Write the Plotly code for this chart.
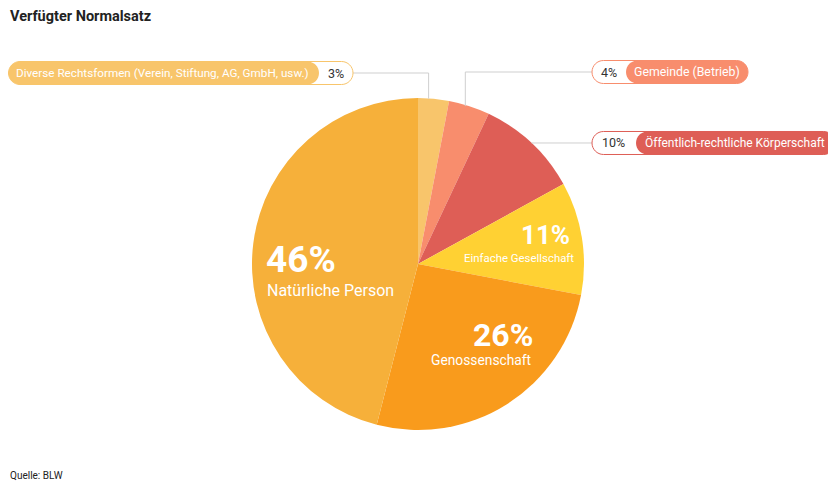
import numpy as np
import plotly.graph_objects as go

# ----------------------------------------------------------------------
# data
# ----------------------------------------------------------------------
labels = [
    "Diverse Rechtsformen (Verein, Stiftung, AG, GmbH, usw.)",
    "Gemeinde (Betrieb)",
    "Öffentlich-rechtliche Körperschaft",
    "Einfache Gesellschaft",
    "Genossenschaft",
    "Natürliche Person",
]
values = [3, 4, 10, 11, 26, 46]
colors = ["#F8C56B", "#F88D6D", "#DE5E56", "#FFD133", "#F99B1C", "#F6B03A"]

title = "Verfügter Normalsatz"
source = "Quelle: BLW"

FONT = "Roboto"
W, H = 836, 482
OFF = 8                      # page body margin, everything is laid out in page pixels
CX, CY, R = 418, 264, 166    # pie centre / radius in page pixels

# ----------------------------------------------------------------------
# pie
# ----------------------------------------------------------------------
fig = go.Figure()
fig.add_trace(go.Pie(
    labels=labels, values=values, sort=False, direction="clockwise",
    rotation=0, textinfo="none", hoverinfo="label+percent",
    marker=dict(colors=colors, line=dict(width=0)),
    domain=dict(x=[(CX - OFF - R) / W, (CX - OFF + R) / W],
                y=[1 - (CY - OFF + R) / H, 1 - (CY - OFF - R) / H]),
    showlegend=False,
))

# slice mid angles (clockwise from 12 o'clock)
total = sum(values)
cum = np.cumsum([0] + values)
mid = [(cum[i] + values[i] / 2) / total * 2 * np.pi for i in range(len(values))]


def edge(i):
    return CX + R * np.sin(mid[i]), CY - R * np.cos(mid[i])


def pill(x0, x1, yc, h=23):
    r = h / 2
    k = 0.5523 * r
    return (f"M{x0 + r},{yc - r} L{x1 - r},{yc - r} "
            f"C{x1 - r + k},{yc - r} {x1},{yc - k} {x1},{yc} "
            f"C{x1},{yc + k} {x1 - r + k},{yc + r} {x1 - r},{yc + r} "
            f"L{x0 + r},{yc + r} "
            f"C{x0 + r - k},{yc + r} {x0},{yc + k} {x0},{yc} "
            f"C{x0},{yc - k} {x0 + r - k},{yc - r} {x0 + r},{yc - r} Z")


line_style = dict(color="#cfcfcf", width=1)
shapes = []
annos = []

# --- Diverse Rechtsformen (pill left, label first) ---
ex, ey = edge(0)
py = 73
shapes.append(dict(type="path", path=f"M{ex - 5},{ey} L{ex - 5},{py} L353,{py}",
                   line=line_style))
shapes.append(dict(type="path", path=pill(OFF + 0.5, 353, py), fillcolor="white",
                   line=dict(color=colors[0], width=1)))
shapes.append(dict(type="path", path=pill(OFF + 0.5, 319, py), fillcolor=colors[0],
                   line=dict(width=0)))
annos.append(dict(x=14, y=py, text=labels[0], xanchor="left",
                  font=dict(color="white", size=11.7)))
annos.append(dict(x=336, y=py, text=f"{values[0]}%", xanchor="center",
                  font=dict(color="#333", size=12.5)))

# --- Gemeinde (pill right, value first) ---
ex, ey = edge(1)
py = 72
shapes.append(dict(type="path", path=f"M{ex - 4},{ey} L{ex - 4},{py} L592,{py}",
                   line=line_style))
shapes.append(dict(type="path", path=pill(592, 748, py), fillcolor="white",
                   line=dict(color=colors[1], width=1)))
shapes.append(dict(type="path", path=pill(626, 748, py), fillcolor=colors[1],
                   line=dict(width=0)))
annos.append(dict(x=609, y=py, text=f"{values[1]}%", xanchor="center",
                  font=dict(color="#333", size=12.5)))
annos.append(dict(x=687, y=py, text=labels[1], xanchor="center",
                  font=dict(color="white", size=12.3)))

# --- Öffentlich-rechtliche Körperschaft ---
ex, ey = edge(2)
py = ey
shapes.append(dict(type="path", path=f"M{ex},{py} L592,{py}", line=line_style))
shapes.append(dict(type="path", path=pill(592, 835, py), fillcolor="white",
                   line=dict(color=colors[2], width=1)))
shapes.append(dict(type="path", path=pill(636, 835, py), fillcolor=colors[2],
                   line=dict(width=0)))
annos.append(dict(x=613, y=py, text=f"{values[2]}%", xanchor="center",
                  font=dict(color="#333", size=12.5)))
annos.append(dict(x=735, y=py, text=labels[2], xanchor="center",
                  font=dict(color="white", size=12)))

# --- inside labels ---
annos += [
    dict(x=264, y=259, text=f"<b>{values[5]}%</b>", xanchor="left",
         font=dict(color="white", size=37)),
    dict(x=265, y=290, text=labels[5], xanchor="left",
         font=dict(color="white", size=16)),
    dict(x=572, y=235, text=f"<b>{values[3]}%</b>", xanchor="right",
         font=dict(color="white", size=26)),
    dict(x=576, y=258, text=labels[3], xanchor="right",
         font=dict(color="white", size=11.4)),
    dict(x=535, y=335, text=f"<b>{values[4]}%</b>", xanchor="right",
         font=dict(color="white", size=32)),
    dict(x=534, y=360, text=labels[4], xanchor="right",
         font=dict(color="white", size=13.8)),
]

# --- title and source (the page margin keeps them off the very edge) ---
annos += [
    dict(x=OFF, y=16, text=f"<b>{title}</b>", xanchor="left",
         font=dict(color="#222", size=14.5)),
    dict(x=OFF, y=475, text=source, xanchor="left",
         font=dict(color="#222", size=10)),
]

for a in annos:
    a.update(xref="x", yref="y", yanchor="middle", showarrow=False)
for s in shapes:
    s.update(xref="x", yref="y")

fig.update_layout(
    width=W, height=H,
    margin=dict(l=0, r=0, t=0, b=0),
    paper_bgcolor="white", plot_bgcolor="white",
    font=dict(family=FONT),
    xaxis=dict(range=[OFF, W + OFF], visible=False, fixedrange=True),
    yaxis=dict(range=[H + OFF, OFF], visible=False, fixedrange=True),
    shapes=shapes,
    annotations=annos,
)

fig.write_html("out.html")
